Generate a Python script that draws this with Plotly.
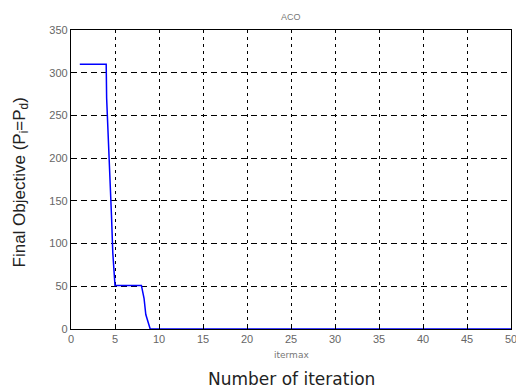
import plotly.graph_objects as go

iterations = [1, 4.0, 4.05, 4.25, 4.45, 4.6, 4.75, 4.95, 5.0, 8.0, 8.3, 8.5, 8.8, 9.0, 50]
objective = [310, 310, 270, 225, 180, 133, 89, 51, 51, 51, 36, 17, 5, 0, 0]

x_ticks = list(range(0, 51, 5))
y_ticks = list(range(0, 351, 50))

fig = go.Figure()
fig.add_trace(go.Scatter(x=iterations, y=objective, mode="lines",
                         line=dict(color="#0000ff", width=1.5), showlegend=False))

axis_common = dict(
    showline=True, linecolor="black", linewidth=1.2, mirror=True,
    ticks="inside", ticklen=3, tickcolor="black",
    showgrid=True, gridcolor="black", gridwidth=1,
    zeroline=False, automargin=False,
    ticklabeloverflow="allow",
    tickfont=dict(family="Liberation Sans", size=11, color="#666666"),
)

fig.update_layout(
    width=516, height=390,
    margin=dict(l=71, r=5, t=30, b=61),
    plot_bgcolor="white", paper_bgcolor="white",
    xaxis=dict(range=[0, 50], tickvals=x_ticks, griddash="3px,4px", **axis_common),
    yaxis=dict(range=[0, 350], tickvals=y_ticks, griddash="6px,4px", **axis_common),
    annotations=[
        dict(text="ACO", x=0.5, y=1, xref="paper", yref="paper", yanchor="bottom",
             yshift=6, showarrow=False,
             font=dict(family="Liberation Sans", size=9, color="#777777")),
        dict(text="Final Objective (P<sub>i</sub>=P<sub>d</sub>)", x=(21 - 71) / 440, y=0.49,
             xref="paper", yref="paper", xanchor="center", showarrow=False, textangle=-90,
             font=dict(family="Liberation Sans", size=17, color="#222222")),
        dict(text="itermax", x=0.5, y=0, xref="paper", yref="paper", yanchor="middle",
             yshift=-26, showarrow=False,
             font=dict(family="DejaVu Sans", size=9, color="#777777")),
        dict(text="Number of iteration", x=0.5, y=0, xref="paper", yref="paper",
             yanchor="middle", yshift=-50, showarrow=False,
             font=dict(family="DejaVu Sans", size=17, color="#222222")),
    ],
)

fig.write_html("out.html")
